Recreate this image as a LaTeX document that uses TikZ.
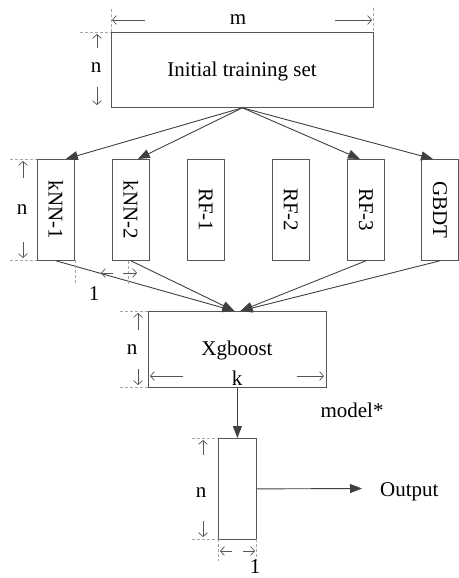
\documentclass[tikz,border=0pt]{standalone}
\usepackage{fontspec}
\setmainfont{Liberation Serif}
\usetikzlibrary{arrows.meta}
\definecolor{edgegray}{HTML}{555555}
\definecolor{flowgray}{HTML}{404040}
\definecolor{guidegray}{HTML}{A8A8A8}
\begin{document}
\begin{tikzpicture}[x=1pt,y=-1pt,
  every node/.style={font=\fontsize{21}{25}\selectfont, text=black},
  modelbox/.style={draw=edgegray, line width=0.8pt, inner sep=0pt, anchor=north west},
  flow/.style={draw=flowgray, line width=0.9pt, -{Triangle[length=12pt,width=9pt]}},
  dimarr/.style={draw=edgegray, line width=0.7pt, -{Straight Barb[length=4pt,width=9pt]}},
  guide/.style={draw=guidegray, line width=0.7pt, dash pattern=on 3pt off 2pt},
  lbl/.style={anchor=base, inner sep=0pt},
  vlbl/.style={rotate=-90, inner sep=0pt}]
\useasboundingbox (0,0) rectangle (458,578);

% blocks
\node[modelbox, minimum width=262pt, minimum height=75pt] (init) at (111,32) {};
\node[modelbox, minimum width=37pt, minimum height=101pt] (k1) at (37,159) {};
\node[modelbox, minimum width=37pt, minimum height=101pt] (k2) at (112,159) {};
\node[modelbox, minimum width=37pt, minimum height=101pt] (r1) at (187,159) {};
\node[modelbox, minimum width=37pt, minimum height=101pt] (r2) at (272,159) {};
\node[modelbox, minimum width=37pt, minimum height=101pt] (r3) at (347,159) {};
\node[modelbox, minimum width=37pt, minimum height=101pt] (gb) at (421,159) {};
\node[modelbox, minimum width=178pt, minimum height=76pt] (xg) at (148,311) {};
\node[modelbox, minimum width=38pt, minimum height=101pt] (res) at (218,438) {};

% block texts
\node[lbl] (tinit) at (242,77) {Initial training set};
\node[vlbl] (tk1) at (k1.center) {kNN-1};
\node[vlbl] (tk2) at (k2.center) {kNN-2};
\node[vlbl] (tr1) at (r1.center) {RF-1};
\node[vlbl] (tr2) at (r2.center) {RF-2};
\node[vlbl] (tr3) at (r3.center) {RF-3};
\node[vlbl] (tgb) at (gb.center) {GBDT};
\node[lbl] (txg) at (237,355) {Xgboost};

% flow between blocks
\draw[flow] (init.south) -- ([xshift=-9pt]k1.north east);
\draw[flow] (init.south) -- ([xshift=-12pt]k2.north east);
\draw[flow] (init.south) -- ([xshift=13pt]r3.north west);
\draw[flow] (init.south) -- ([xshift=12pt]gb.north west);
\draw[flow] (k1.south) -- ([xshift=-3pt]xg.north);
\draw[flow] (k2.south) -- ([xshift=-3pt]xg.north);
\draw[flow] (r3.south) -- ([xshift=3pt]xg.north);
\draw[flow] (gb.south) -- ([xshift=3pt]xg.north);
\draw[flow] (xg.south) -- (res.north);
\coordinate (outtip) at (362,488.5);
\draw[flow] (res.east) -- (outtip);
\node[anchor=base west, inner sep=0pt] (outtxt) at (380,496) {Output};
\node[lbl] (mstar) at (352,417) {model*};

% size marks: initial training set
\draw[guide] (111,9) -- (111,32);
\draw[guide] (373,8) -- (373,32);
\draw[guide] (80,32) -- (111,32);
\draw[guide, draw=edgegray, line width=1pt] (135,107) -- (166,107);
\draw[dimarr] (145,20) -- (112,20);
\draw[dimarr] (335,20) -- (372,20);
\node[lbl] (tm) at (238,25) {m};
\draw[dimarr] (97,48) -- (97,34);
\draw[dimarr] (97,87) -- (97,105);
\node[lbl] (tn1) at (96,72) {n};

% size marks: base models
\draw[guide] (10,159) -- (37,159);
\draw[guide] (10,260) -- (37,260);
\draw[dimarr] (23,178) -- (23,161);
\draw[dimarr] (23,242) -- (23,258);
\node[lbl] (tn2) at (22,214) {n};
\draw[guide] (75,260) -- (75,283);
\draw[guide] (128,261) -- (128,285);
\draw[dimarr] (113,273) -- (101,273);
\draw[dimarr] (123,273) -- (137,273);
\node[lbl] (tl1) at (94,300) {1};

% size marks: Xgboost
\draw[guide] (120,311) -- (148,311);
\draw[guide] (120,387) -- (148,387);
\draw[dimarr] (138,330) -- (138,313);
\draw[dimarr] (138,369) -- (138,385);
\node[lbl] (tn3) at (132,354) {n};
\draw[dimarr] (183,376) -- (150,376);
\draw[dimarr] (297,376) -- (324,376);
\node[lbl] (tk) at (237,385) {k};

% size marks: output block
\draw[guide] (192,438) -- (218,438);
\draw[guide] (192,539) -- (218,539);
\draw[dimarr] (203,455) -- (203,440);
\draw[dimarr] (203,521) -- (203,537);
\node[lbl] (tn4) at (201,497) {n};
\draw[guide] (218,539) -- (218,561);
\draw[guide] (256,539) -- (256,561);
\draw[dimarr] (232,551) -- (220,551);
\draw[dimarr] (243,551) -- (255,551);
\node[lbl] (tl2) at (255,573) {1};
\end{tikzpicture}
\end{document}
